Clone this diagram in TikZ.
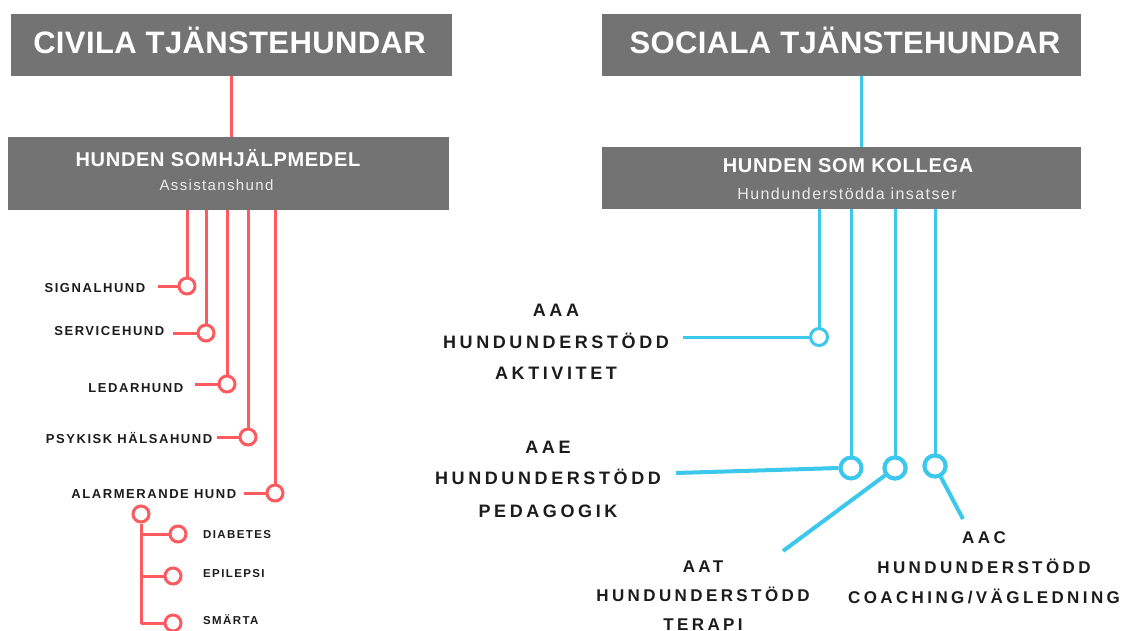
\documentclass[tikz,border=0pt]{standalone}
\usepackage{fontspec}
\setmainfont{Liberation Sans}
\newfontfamily\headfont{Liberation Sans}[LetterSpace=1.2]
\newfontfamily\subheadfont{Liberation Sans}[LetterSpace=3.5]
\newfontfamily\subfont{Liberation Sans}[LetterSpace=9]
\newfontfamily\lblfont{Liberation Sans}[LetterSpace=12]
\newfontfamily\biglblfont{Liberation Sans}[LetterSpace=20]
\definecolor{boxgray}{HTML}{737373}
\definecolor{cred}{HTML}{FF5A5F}
\definecolor{cblue}{HTML}{3CC8EC}
\definecolor{ink}{HTML}{1C1C1C}
\tikzset{
  graybox/.style={fill=boxgray, draw=none, inner sep=0pt},
  headtxt/.style={text=white, inner sep=0pt, anchor=base, font=\headfont\bfseries\fontsize{31}{31}\selectfont},
  subheadtxt/.style={text=white, inner sep=0pt, anchor=base, font=\subheadfont\bfseries\fontsize{20}{20}\selectfont},
  subtxt/.style={text=white!92!black, inner sep=0pt, anchor=base, font=\subfont\fontsize{15}{15}\selectfont},
  redlbl/.style={text=ink, inner sep=0pt, anchor=base east, font=\lblfont\bfseries\fontsize{13}{13}\selectfont},
  smalllbl/.style={text=ink, inner sep=0pt, anchor=base west, font=\lblfont\bfseries\fontsize{11.5}{11.5}\selectfont},
  bluelbl/.style={text=ink, inner sep=0pt, anchor=base, font=\biglblfont\bfseries\fontsize{18}{18}\selectfont},
  bluelblb/.style={text=ink, inner sep=0pt, anchor=base, font=\biglblfont\bfseries\fontsize{17}{17}\selectfont},
  redring/.style={circle, draw=cred, fill=white, line width=3pt, inner sep=0pt, minimum size=16pt},
  bluering/.style={circle, draw=cblue, fill=white, line width=3pt, inner sep=0pt, minimum size=17pt},
  bigring/.style={circle, draw=cblue, fill=white, line width=4pt, inner sep=0pt, minimum size=21pt},
  redline/.style={draw=cred, line width=3pt},
  blueline/.style={draw=cblue, line width=3pt},
  bluethick/.style={draw=cblue, line width=4pt},
}
\begin{document}
\begin{tikzpicture}[x=1pt,y=-1pt]
\useasboundingbox (0,0) rectangle (1123,630);
\fill[white] (0,0) rectangle (1123,630);

% ---------- boxes ----------
\node[graybox, minimum width=441pt, minimum height=62pt] (civ) at (231.5,45) {};
\node[graybox, minimum width=441pt, minimum height=73pt] (hjm) at (228.5,173.5) {};
\node[graybox, minimum width=479pt, minimum height=62pt] (soc) at (841.5,45) {};
\node[graybox, minimum width=479pt, minimum height=62pt] (kol) at (841.5,178) {};

\node[headtxt] (civt) at (229.5,53) {CIVILA TJÄNSTEHUNDAR};
\node[headtxt] (soct) at (845,53) {SOCIALA TJÄNSTEHUNDAR};
\node[subheadtxt] (hjmt) at (218,166) {HUNDEN SOMHJÄLPMEDEL};
\node[subtxt] (hjms) at (216.5,190.5) {Assistanshund};
\node[subheadtxt] (kolt) at (848,172) {HUNDEN SOM KOLLEGA};
\node[subtxt, font=\subfont\fontsize{16}{16}\selectfont] (kols) at (847,199.5) {Hundunderstödda insatser};

% ---------- red (civila) ----------
\coordinate (civb) at (231.5,76);
\draw[redline] (civ.south -| civb) -- (hjm.north -| civb);

\node[redring] (s1) at (187,286) {};
\node[redring] (s2) at (206,333) {};
\node[redring] (s3) at (227,384) {};
\node[redring] (s4) at (248,437) {};
\node[redring] (s5) at (275,493) {};

\foreach \n in {s1,s2,s3,s4,s5}{
  \draw[redline] (hjm.south -| \n) -- (\n.north);
}
\coordinate (e1) at (158,286);
\coordinate (e2) at (173,333);
\coordinate (e3) at (195,384);
\coordinate (e4) at (217,437);
\coordinate (e5) at (244,493);
\draw[redline] (e1) -- (s1.west);
\draw[redline] (e2) -- (s2.west);
\draw[redline] (e3) -- (s3.west);
\draw[redline] (e4) -- (s4.west);
\draw[redline] (e5) -- (s5.west);

\node[redlbl] (l1) at (145.5,292.5) {SIGNALHUND};
\node[redlbl] (l2) at (164.5,335.5) {SERVICEHUND};
\node[redlbl] (l3) at (183.5,392.5) {LEDARHUND};
\node[redlbl] (l4) at (212.5,443.5) {PSYKISK HÄLSAHUND};
\node[redlbl] (l5) at (236.5,498.5) {ALARMERANDE HUND};

\node[redring] (a0) at (141,514) {};
\node[redring] (d1) at (178,534) {};
\node[redring] (d2) at (173,576) {};
\node[redring] (d3) at (173,623) {};
\coordinate (a0b) at (141,623);
\draw[redline, line join=round] (a0.south) -- (a0b) -- (d3.west);
\draw[redline] (a0 |- d1) -- (d1.west);
\draw[redline] (a0 |- d2) -- (d2.west);

\node[smalllbl] (t1) at (203,538) {DIABETES};
\node[smalllbl] (t2) at (203,577) {EPILEPSI};
\node[smalllbl] (t3) at (203,624) {SMÄRTA};

% ---------- blue (sociala) ----------
\coordinate (socb) at (861,76);
\draw[blueline] (soc.south -| socb) -- (kol.north -| socb);

\node[bluering] (b1) at (819,337) {};
\node[bigring] (b2) at (851,468) {};
\node[bigring] (b3) at (895,468) {};
\node[bigring] (b4) at (935,466) {};
\foreach \n in {b1,b2,b3,b4}{
  \draw[blueline] (kol.south -| \n) -- (\n.north);
}
\coordinate (f1) at (683,337);
\coordinate (f2) at (676,473);
\coordinate (f3) at (783,551);
\coordinate (f4) at (963,519);
\draw[blueline] (f1) -- (b1.west);
\draw[bluethick] (f2) -- (b2.west);
\draw[bluethick] (f3) -- (b3);
\draw[bluethick] (b4) -- (f4);
\node[bigring] (b3r) at (895,468) {};
\node[bigring] (b4r) at (935,466) {};

\node[bluelbl] (aaa1) at (556,316.5) {AAA};
\node[bluelbl] (aaa2) at (556,348.5) {HUNDUNDERSTÖDD};
\node[bluelbl] (aaa3) at (556,379.5) {AKTIVITET};
\node[bluelbl] (aae1) at (548,453.5) {AAE};
\node[bluelbl] (aae2) at (548,484.5) {HUNDUNDERSTÖDD};
\node[bluelbl] (aae3) at (548,517.5) {PEDAGOGIK};
\node[bluelblb] (aat1) at (703,572) {AAT};
\node[bluelblb] (aat2) at (703,601) {HUNDUNDERSTÖDD};
\node[bluelblb] (aat3) at (703,630) {TERAPI};
\node[bluelblb] (aac1) at (984,543) {AAC};
\node[bluelblb] (aac2) at (984,573) {HUNDUNDERSTÖDD};
\node[bluelblb] (aac3) at (984,603) {COACHING/VÄGLEDNING};
\end{tikzpicture}
\end{document}
